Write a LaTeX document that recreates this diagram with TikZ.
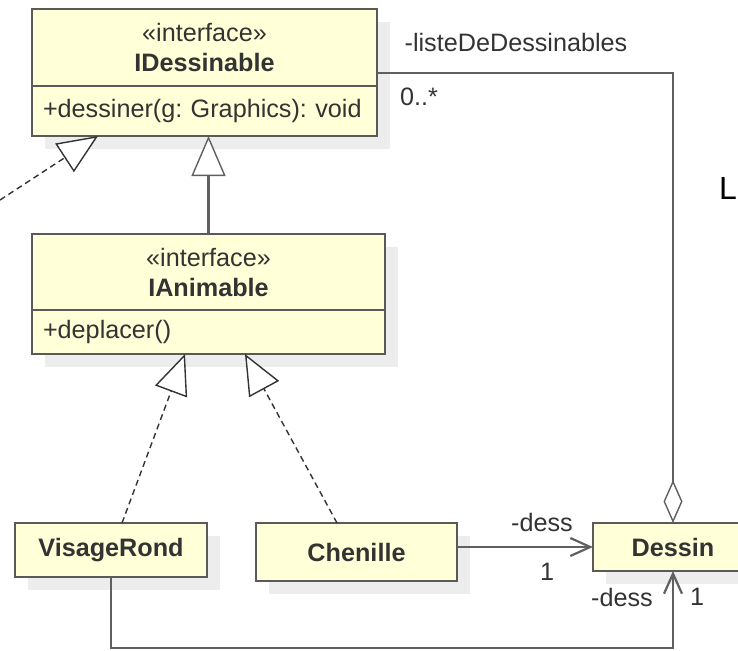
\documentclass[tikz,border=0pt]{standalone}
\usepackage{fontspec}
\setmainfont{Liberation Sans}
\frenchspacing
\usetikzlibrary{positioning,arrows.meta,shadows}
\definecolor{boxfill}{HTML}{FFFFD8}
\definecolor{boxline}{HTML}{5A5A5A}
\definecolor{linegray}{HTML}{606060}
\definecolor{txtgray}{HTML}{333333}
\definecolor{shadegray}{HTML}{EDEDED}
\tikzstyle{every node}=[font=\fontsize{25.2}{30}\selectfont, text=txtgray]
\tikzstyle{umlbox}=[draw=boxline, fill=boxfill, line width=2pt, outer sep=0pt, inner xsep=11pt, inner ysep=0pt,
    general shadow={fill=shadegray, shadow xshift=13pt, shadow yshift=-13pt}]
\tikzstyle{head}=[umlbox, align=center]
\tikzstyle{ops}=[umlbox, align=left]
\tikzstyle{lbl}=[inner sep=0pt]
\tikzstyle{inherit}=[draw=linegray, line width=2.2pt, -{Triangle[fill=white, line width=1.4pt, length=40pt, width=34pt]}]
\tikzstyle{realize}=[inherit, draw=txtgray, line width=1.4pt, dash pattern=on 6pt off 4pt]
\tikzstyle{assoc}=[draw=linegray, line width=2.2pt, -{Straight Barb[length=20pt, width=18pt]}]
\tikzstyle{aggr}=[draw=linegray, line width=2.2pt, -{Diamond[fill=white, line width=1.4pt, length=43pt, width=19pt]}]

\begin{document}
\begin{tikzpicture}[x=1pt, y=-1pt]
    \useasboundingbox (0,0) rectangle (738,650);
    \clip (0,0) rectangle (738,650);
    \node[head, text width=323pt, minimum height=77pt] (idess) at (204.5,47.5) {«interface»\\\textbf{IDessinable}};
    \node[ops, text width=323pt, minimum height=50pt, below=0pt of idess] (idessop) {\mbox{+dessiner(g: Graphics): void}};
    \node[head, text width=331pt, minimum height=76pt] (ianim) at (208.5,272) {«interface»\\\textbf{IAnimable}};
    \node[ops, text width=331pt, minimum height=44pt, below=0pt of ianim] (ianimop) {\mbox{+deplacer()}};
    \node[umlbox, minimum width=192pt, minimum height=54pt] (visage) at (111,550) {\textbf{VisageRond}};
    \node[umlbox, minimum width=201pt, minimum height=58pt] (chen) at (356.5,552) {\textbf{Chenille}};
    \node[umlbox, minimum width=160pt, minimum height=48pt] (dessin) at (673,547) {\textbf{Dessin}};
    \coordinate (outside) at (0,200);

    \draw[inherit] (ianim.north) -- (ianim.north |- idessop.south);
    \draw[realize] (outside) -- ([xshift=-106.5pt]idessop.south);
    \draw[realize] ([xshift=11pt]visage.north) -- ([xshift=-23.5pt]ianimop.south);
    \draw[realize] ([xshift=-19.5pt]chen.north) -- ([xshift=36.5pt]ianimop.south);
    \draw[aggr] ([yshift=13pt]idess.south east) -| (dessin.north);
    \draw[assoc] (chen.east |- dessin.west) -- (dessin.west);
    \draw[assoc] (visage.south) |- ([yshift=-77pt]dessin.south) -- (dessin.south);

    \node[lbl] (listrole) at (516,42) {-listeDeDessinables};
    \node[lbl, anchor=west] (listmult) at (400,97) {0..*};
    \node[lbl] (chenrole) at (542,522) {-dess};
    \node[lbl] (chenmult) at (547,572) {1};
    \node[lbl] (visrole) at (622,597) {-dess};
    \node[lbl] (vismult) at (697,597) {1};
    \node[lbl, anchor=west, text=black, font=\fontsize{32}{32}\selectfont] (cutL) at (719,188) {L};
\end{tikzpicture}
\end{document}
